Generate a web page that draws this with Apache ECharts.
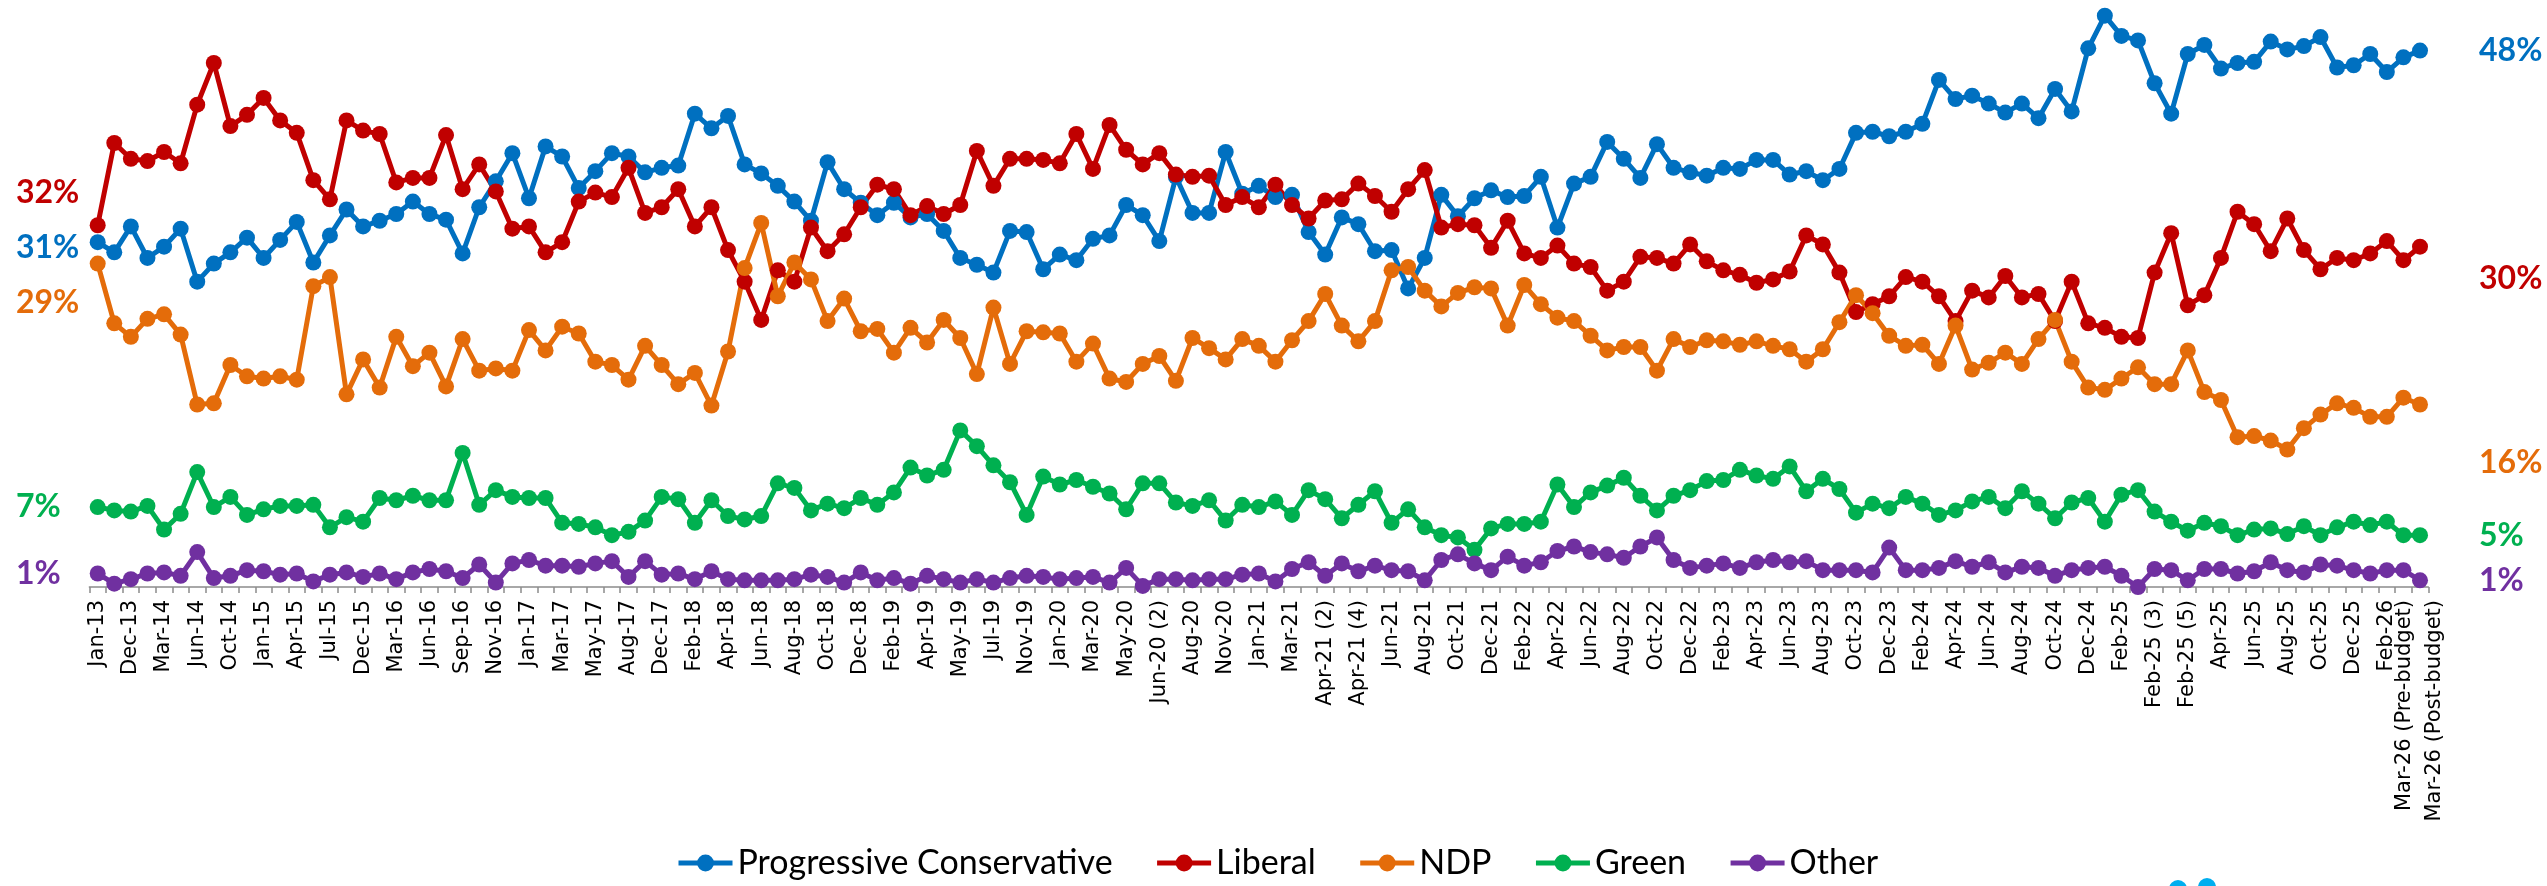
<!DOCTYPE html>
<html>
<head>
<meta charset="utf-8">
<script src="https://cdn.jsdelivr.net/npm/echarts@6/dist/echarts.min.js"></script>
<style>html,body{margin:0;padding:0;background:#fff}#c{width:2547px;height:886px}</style>
</head>
<body>
<div id="c"></div>
<script>
// Tick labels (every other poll is labelled)
const tickLabels = ['Jan-13','Dec-13','Mar-14','Jun-14','Oct-14','Jan-15','Apr-15','Jul-15','Dec-15','Mar-16','Jun-16','Sep-16','Nov-16','Jan-17','Mar-17','May-17','Aug-17','Dec-17','Feb-18','Apr-18','Jun-18','Aug-18','Oct-18','Dec-18','Feb-19','Apr-19','May-19','Jul-19','Nov-19','Jan-20','Mar-20','May-20','Jun-20 (2)','Aug-20','Nov-20','Jan-21','Mar-21','Apr-21 (2)','Apr-21 (4)','Jun-21','Aug-21','Oct-21','Dec-21','Feb-22','Apr-22','Jun-22','Aug-22','Oct-22','Dec-22','Feb-23','Apr-23','Jun-23','Aug-23','Oct-23','Dec-23','Feb-24','Apr-24','Jun-24','Aug-24','Oct-24','Dec-24','Feb-25','Feb-25 (3)','Feb-25 (5)','Apr-25','Jun-25','Aug-25','Oct-25','Dec-25','Feb-26','Mar-26 (Pre-budget)\nMar-26 (Post-budget)'];

const seriesNames = ['Progressive Conservative','Liberal','NDP','Green','Other'];

const pc = [30.6,29.7,32.0,29.2,30.2,31.8,27.1,28.7,29.7,31.0,29.2,30.8,32.4,28.8,31.2,33.5,32.0,32.5,33.1,34.2,33.1,32.6,29.6,33.7,36.0,38.5,34.5,39.1,38.2,35.4,36.9,38.5,38.2,36.8,37.2,37.4,42.0,40.7,41.8,37.5,36.7,35.6,34.2,32.5,37.7,35.3,34.1,33.0,34.1,32.8,33.1,31.6,29.2,28.6,27.9,31.6,31.5,28.2,29.5,29.0,30.9,31.2,33.9,33.0,30.7,36.4,33.2,33.2,38.6,34.9,35.6,34.6,34.8,31.5,29.5,32.8,32.2,29.8,29.9,26.5,29.2,34.8,32.9,34.5,35.2,34.6,34.7,36.4,31.9,35.8,36.4,39.5,38.0,36.3,39.3,37.2,36.8,36.5,37.2,37.1,37.9,37.9,36.6,36.9,36.1,37.1,40.3,40.4,40.0,40.4,41.1,45.0,43.3,43.6,42.9,42.1,42.9,41.6,44.2,42.2,47.8,50.7,48.9,48.5,44.7,42.0,47.3,48.1,46.0,46.5,46.6,48.4,47.7,48.0,48.8,46.1,46.3,47.3,45.7,47.0,47.6];

const liberal = [32.1,39.4,38.0,37.8,38.6,37.6,42.8,46.5,40.9,41.9,43.4,41.4,40.3,36.1,34.4,41.4,40.5,40.2,35.9,36.3,36.3,40.1,35.3,37.5,35.1,31.8,32.0,29.7,30.6,34.2,35.0,34.6,37.2,33.2,33.7,35.3,32.0,33.7,29.9,27.1,23.7,28.1,27.1,31.9,29.8,31.3,33.7,35.7,35.3,33.0,33.8,33.1,33.9,38.7,35.6,38.0,38.0,37.9,37.6,40.2,37.1,41.0,38.8,37.5,38.5,36.6,36.4,36.5,33.9,34.6,33.7,35.7,33.9,32.7,34.3,34.4,35.8,34.7,33.3,35.3,37.0,31.9,32.2,32.1,30.1,32.5,29.6,29.2,30.3,28.7,28.4,26.3,27.1,29.3,29.2,28.7,30.4,28.9,28.1,27.7,27.0,27.3,28.0,31.2,30.4,27.9,24.4,25.1,25.8,27.5,27.1,25.8,23.6,26.3,25.7,27.6,25.7,26.0,23.6,27.1,23.4,23.0,22.2,22.1,27.9,31.4,25.0,25.9,29.2,33.3,32.2,29.8,32.7,29.9,28.2,29.2,29.0,29.6,30.7,29.0,30.2];

const ndp = [28.7,23.4,22.2,23.8,24.2,22.4,16.2,16.3,19.7,18.7,18.5,18.7,18.4,26.7,27.5,17.1,20.2,17.7,22.2,19.6,20.8,17.8,22.0,19.2,19.4,19.2,22.8,21.0,23.1,22.5,20.0,19.7,18.4,21.4,19.7,18.0,19.0,16.1,20.9,28.3,32.3,25.8,28.8,27.3,23.6,25.6,22.7,22.9,20.8,23.0,21.7,23.7,22.1,18.9,24.8,19.8,22.7,22.6,22.5,20.0,21.6,18.5,18.2,19.8,20.5,18.3,22.1,21.2,20.2,22.0,21.4,20.0,21.9,23.6,26.0,23.2,21.8,23.6,28.1,28.4,26.3,24.9,26.1,26.6,26.5,23.2,26.8,25.1,23.9,23.6,22.3,21.0,21.3,21.3,19.2,22.0,21.3,21.9,21.8,21.5,21.8,21.4,21.1,20.0,21.1,23.5,25.9,24.3,22.3,21.4,21.5,19.8,23.2,19.3,19.9,20.8,19.8,22.0,23.7,20.0,17.7,17.5,18.5,19.5,18.0,18.0,21.0,17.3,16.6,13.3,13.4,13.0,12.2,14.1,15.3,16.3,15.9,15.1,15.1,16.8,16.2];

const green = [7.1,6.8,6.7,7.2,5.1,6.5,10.2,7.1,8.0,6.4,6.9,7.2,7.2,7.3,5.3,6.2,5.8,7.9,7.7,8.1,7.7,7.7,11.9,7.3,8.6,8.0,7.9,7.9,5.7,5.6,5.3,4.6,4.9,5.9,8.0,7.8,5.7,7.7,6.3,6.0,6.3,9.2,8.8,6.8,7.4,7.0,7.9,7.3,8.4,10.6,9.9,10.4,13.9,12.5,10.8,9.3,6.4,9.8,9.1,9.5,8.9,8.3,6.9,9.2,9.2,7.5,7.2,7.7,5.9,7.3,7.1,7.6,6.4,8.6,7.8,6.1,7.3,8.5,5.7,6.9,5.3,4.6,4.4,3.3,5.2,5.6,5.6,5.8,9.1,7.1,8.4,9.0,9.7,8.1,6.8,8.1,8.6,9.4,9.5,10.4,9.9,9.6,10.7,8.5,9.6,8.7,6.6,7.4,7.0,8.0,7.4,6.4,6.8,7.6,8.0,7.0,8.5,7.4,6.1,7.5,7.9,5.8,8.2,8.6,6.7,5.8,5.0,5.7,5.4,4.6,5.1,5.2,4.7,5.4,4.6,5.3,5.8,5.5,5.8,4.6,4.6];

const other = [1.2,0.3,0.7,1.2,1.3,1.0,3.1,0.8,1.0,1.5,1.4,1.1,1.2,0.5,1.1,1.3,0.9,1.2,0.7,1.3,1.6,1.4,0.8,2.0,0.4,2.1,2.4,1.9,1.9,1.8,2.1,2.3,0.9,2.3,1.1,1.2,0.7,1.4,0.7,0.6,0.6,0.6,0.7,1.1,0.9,0.4,1.3,0.6,0.8,0.3,1.0,0.7,0.4,0.7,0.4,0.8,1.0,0.9,0.7,0.8,0.9,0.4,1.7,0.1,0.7,0.7,0.6,0.7,0.7,1.1,1.2,0.5,1.6,2.2,1.0,2.1,1.4,1.9,1.5,1.4,0.6,2.4,2.9,2.1,1.5,2.7,1.9,2.2,3.2,3.6,3.1,2.9,2.6,3.6,4.4,2.4,1.7,1.9,2.1,1.7,2.2,2.4,2.2,2.3,1.5,1.5,1.5,1.3,3.5,1.5,1.5,1.7,2.3,1.8,2.2,1.3,1.8,1.7,1.0,1.5,1.7,1.8,1.0,0.0,1.6,1.5,0.6,1.6,1.6,1.2,1.4,2.2,1.5,1.3,2.0,1.9,1.5,1.2,1.5,1.5,0.6];

const colors = ['#0070C0','#C00000','#E46C0A','#00B050','#7030A0'];

// categories: labelled polls at even positions, unlabelled polls between them
const categories = [];
tickLabels.forEach((t, k) => {
  categories.push(t);
  if (k < tickLabels.length - 1) categories.push('');
});

const allData = [pc, liberal, ndp, green, other];
// vertical nudges of the start/end value labels (px)
const startDy = [6, -33, 39, 0, 0];
const endDy = [0, 32, 58, 0, 0];

const chart = echarts.init(document.getElementById('c'), null, { renderer: 'canvas' });
chart.setOption({
  animation: false,
  backgroundColor: '#fff',
  color: colors,
  grid: { left: 89.4, right: 118.7, top: 1, bottom: 295, containLabel: false },
  xAxis: {
    type: 'category',
    data: categories,
    boundaryGap: true,
    axisLine: { show: true, lineStyle: { color: '#8c8c8c', width: 1.5 } },
    axisTick: { show: true, interval: 0, length: 6, lineStyle: { color: '#8c8c8c', width: 1.5 } },
    axisLabel: {
      interval: 0, rotate: 90, margin: 9, hideOverlap: false,
      fontFamily: 'DejaVu Sans', fontSize: 21, color: '#000', lineHeight: 30
    },
    splitLine: { show: false }
  },
  yAxis: {
    type: 'value', min: -0.35, max: 52, show: false,
    splitLine: { show: false }
  },
  legend: {
    data: seriesNames,
    left: 671, top: 841,
    itemWidth: 54, itemHeight: 21, itemGap: 42,
    lineStyle: { width: 5 },
    textStyle: { fontFamily: 'Lato', fontSize: 34, color: '#000' }
  },
  series: allData.map((arr, k) => ({
    name: seriesNames[k],
    type: 'line',
    data: arr,
    symbol: 'circle',
    symbolSize: 16,
    showSymbol: true,
    showAllSymbol: true,
    lineStyle: { width: 5, color: colors[k] },
    itemStyle: { color: colors[k] },
    emphasis: { disabled: true }
  }))
});

// Start / end value labels placed through the chart's own scales
const last = categories.length - 1;
const texts = [];
allData.forEach((arr, k) => {
  const p0 = chart.convertToPixel({ gridIndex: 0 }, [0, arr[0]]);
  const p1 = chart.convertToPixel({ gridIndex: 0 }, [last, arr[last]]);
  const st = { fill: colors[k], font: 'bold 32px Lato', textVerticalAlign: 'middle', textAlign: 'left' };
  texts.push({ type: 'text', x: 16, y: p0[1] + startDy[k], silent: true,
    style: Object.assign({ text: Math.round(arr[0]) + '%' }, st) });
  texts.push({ type: 'text', x: p1[0] + 59, y: p1[1] + endDy[k], silent: true,
    style: Object.assign({ text: Math.round(arr[last]) + '%' }, st) });
});
texts.push({ type: 'circle', shape: { cx: 2178, cy: 889, r: 9 }, style: { fill: '#00AEEF' }, silent: true });
texts.push({ type: 'circle', shape: { cx: 2207, cy: 887, r: 9 }, style: { fill: '#00AEEF' }, silent: true });
chart.setOption({ graphic: texts });
</script>
</body>
</html>
